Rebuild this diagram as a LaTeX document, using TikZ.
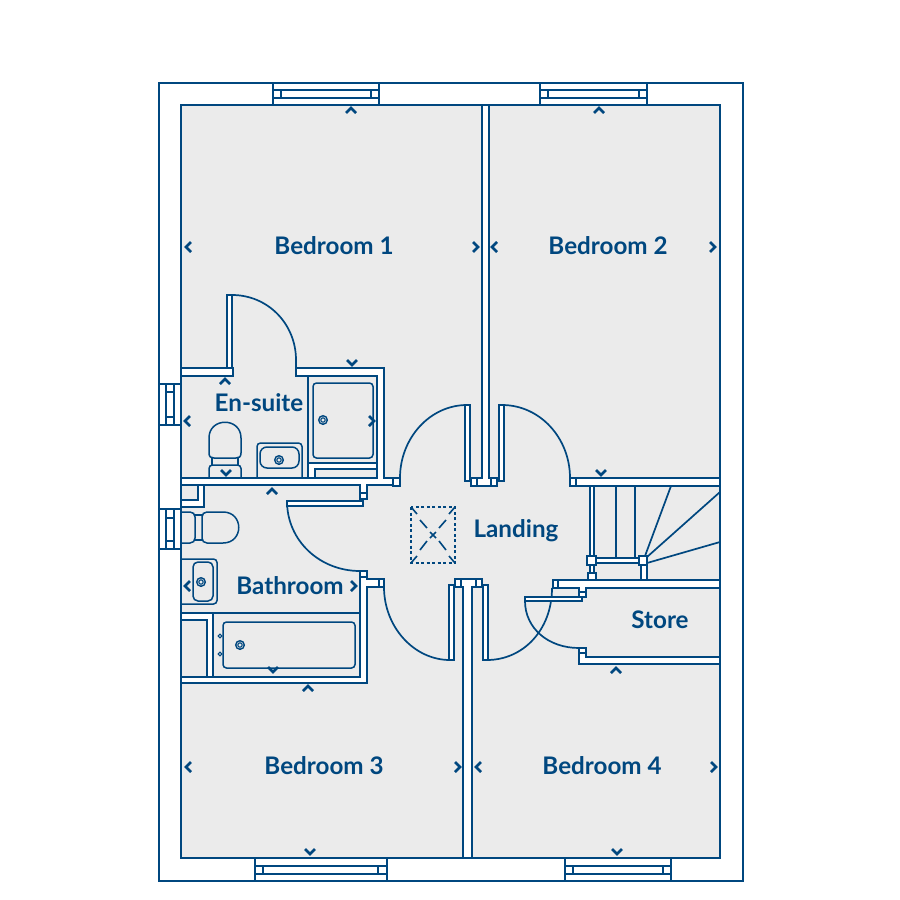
\documentclass[tikz,border=0pt]{standalone}
\usepackage{fontspec}
\setmainfont{Lato}
\definecolor{planblue}{HTML}{00477F}
\definecolor{roomgrey}{HTML}{EBEBEB}
\tikzset{
  plan/.style={draw=planblue,line width=1.7pt,line join=miter},
  thin plan/.style={draw=planblue,line width=1.4pt},
  wall/.style={plan,fill=white},
  fix/.style={draw=planblue,line width=1.5pt,rounded corners=3.5pt},
  chev/.style={draw=planblue,line width=2.6pt,line cap=butt,line join=miter},
  lbl/.style={text=planblue,font=\fontsize{24.2}{27}\selectfont\bfseries,inner sep=0pt},
  sky/.style={draw=planblue,line width=1.6pt,dash pattern=on 3pt off 2.5pt}
}
\newcommand{\chevU}[2]{\draw[chev] (#1-5,#2+3) -- (#1,#2-2) -- (#1+5,#2+3);}
\newcommand{\chevD}[2]{\draw[chev] (#1-5,#2-3) -- (#1,#2+2) -- (#1+5,#2-3);}
\newcommand{\chevL}[2]{\draw[chev] (#1+3,#2-5) -- (#1-2,#2) -- (#1+3,#2+5);}
\newcommand{\chevR}[2]{\draw[chev] (#1-3,#2-5) -- (#1+2,#2) -- (#1-3,#2+5);}
\newcommand{\plug}[2]{\draw[thin plan] (#1,#2) circle[radius=4.3]; \draw[planblue,line width=1.1pt] (#1,#2) circle[radius=2.2];}
\begin{document}
\begin{tikzpicture}[x=1pt,y=-1pt]
\useasboundingbox[fill=white] (0,0) rectangle (900,900);
% outer shell
\fill[white] (159,83) rectangle (743,881);
\draw[plan] (159,83) rectangle (743,881);
\draw[plan,fill=roomgrey] (181,105) rectangle (720,858);
% windows: top
\draw[plan,fill=white] (273,83) rectangle (379,105);
\draw[thin plan] (273,90) -- (379,90) (273,98) -- (379,98) (281,90) -- (281,98) (371,90) -- (371,98);
\draw[plan,fill=white] (540,83) rectangle (647,105);
\draw[thin plan] (540,90) -- (647,90) (540,98) -- (647,98) (548,90) -- (548,98) (639,90) -- (639,98);
% windows: bottom
\draw[plan,fill=white] (255,858) rectangle (387,881);
\draw[thin plan] (255,866) -- (387,866) (255,874) -- (387,874) (263,866) -- (263,874) (378,866) -- (378,874);
\draw[plan,fill=white] (565,858) rectangle (671,881);
\draw[thin plan] (565,866) -- (671,866) (565,874) -- (671,874) (573,866) -- (573,874) (663,866) -- (663,874);
% windows: side
\draw[plan,fill=white] (159,384) rectangle (181,425);
\draw[thin plan] (166,384) -- (166,425) (174,384) -- (174,425) (166,392) -- (174,392) (166,417) -- (174,417);
\draw[plan,fill=white] (159,509) rectangle (181,549);
\draw[thin plan] (166,509) -- (166,549) (174,509) -- (174,549) (166,518) -- (174,518) (166,541) -- (174,541);
% door swings
\draw[plan] (400,478) .. controls (400,438) and (430,405) .. (467,405);
\draw[plan] (502,405) .. controls (540,405) and (570,438) .. (570,478);
\draw[plan] (232,295) .. controls (268,295) and (296,324) .. (296,360) -- (296,376);
\draw[plan] (287,501) .. controls (287,541) and (320,571) .. (360,571);
\draw[plan] (384,587) .. controls (384,627) and (414,660) .. (450,660);
\draw[plan] (487,660) .. controls (523,660) and (552,630) .. (552,588);
\draw[plan] (525,601) .. controls (525,628) and (548,648) .. (579,648);
% central walls and door leaves
\draw[wall] (482,105) -- (489,105) -- (489,478) -- (482,478) -- cycle;
\draw[wall] (471,478) rectangle (497,486);
\fill[white] (483,476) rectangle (488,480);
\draw[thin plan] (477,478) -- (477,486) (491,478) -- (491,486);
\draw[wall] (465,405) rectangle (470,481);
\draw[wall] (499,405) rectangle (504,481);
\draw[wall] (463,587) -- (472,587) -- (472,858) -- (463,858) -- cycle;
\draw[wall] (455,579) rectangle (482,587);
\fill[white] (464,585) rectangle (471,589);
\draw[thin plan] (461,579) -- (461,587) (476,579) -- (476,587);
\draw[wall] (449,585) rectangle (454,660);
\draw[wall] (483,585) rectangle (488,660);
% en-suite walls
\draw[wall] (181,368) -- (233,368) -- (233,376) -- (181,376) -- cycle;
\draw[wall] (227,295) rectangle (232,368);
\draw[wall] (296,376) -- (296,368) -- (384,368) -- (384,478) -- (393,478) -- (393,485) -- (367,485) -- (367,493) -- (360,493) -- (360,485) -- (181,485) -- (181,478) -- (377,478) -- (377,376) -- cycle;
\draw[wall] (393,478) rectangle (400,486);
\draw[wall] (360,493) rectangle (367,499);
\draw[wall] (287,501) rectangle (363,506);
% duct
\draw[wall] (198,485) -- (204,485) -- (204,507) -- (181,507) -- (181,500) -- (198,500) -- cycle;
% shower
\draw[plan] (308,376) -- (308,478);
\draw[wall] (308,463) -- (377,463) -- (377,469) -- (315,469) -- (315,478) -- (308,478) -- cycle;
\draw[fix] (313,383) rectangle (373,458);
\plug{323}{420}
% en-suite sink and WC
\draw[fix] (257,478) -- (257,443) -- (302,443) -- (302,478);
\draw[fix,rounded corners=7pt] (260,447) -- (299,447) -- (299,468) -- (260,468) -- cycle;
\plug{279}{460}
\draw[fix] (209,478) -- (209,465) -- (241,465) -- (241,478);
\draw[plan,line width=1.5pt] (212,458) -- (212,465) (238,458) -- (238,465);
\draw[draw=planblue,line width=1.5pt] (209,453) -- (209,438) .. controls (209,417) and (241,417) .. (241,438) -- (241,453) .. controls (241,457) and (239,458) .. (236,458) -- (214,458) .. controls (211,458) and (209,457) .. (209,453) -- cycle;
% bathroom walls
\draw[wall] (360,577) -- (367,577) -- (367,579) -- (379,579) -- (379,587) -- (367,587) -- (367,683) -- (181,683) -- (181,677) -- (360,677) -- cycle;
\draw[wall] (360,571) rectangle (367,577);
\draw[wall] (379,579) rectangle (384,587);
\draw[plan] (181,613) -- (360,613);
\draw[wall] (181,613) -- (213,613) -- (213,677) -- (207,677) -- (207,620) -- (181,620) -- cycle;
% bath
\draw[fix] (223,622) rectangle (355,668);
\plug{240}{645}
\draw[planblue,line width=1.1pt] (220,636) circle[radius=1.8] (220,654) circle[radius=1.8];
% bathroom sink
\draw[fix] (181,559) -- (217,559) -- (217,604) -- (181,604);
\draw[fix,rounded corners=5pt] (193,562) rectangle (213,601);
\plug{201}{582}
% bathroom WC
\draw[draw=planblue,line width=1.5pt] (181,512) -- (190,512) .. controls (193,512) and (195,514) .. (195,517) -- (195,538) .. controls (195,541) and (193,543) .. (190,543) -- (181,543);
\draw[draw=planblue,line width=1.5pt] (195,515) -- (202,515) (195,540) -- (202,540);
\draw[draw=planblue,line width=1.5pt] (207,512) -- (223,512) .. controls (244,512) and (244,543) .. (223,543) -- (207,543) .. controls (204,543) and (202,541) .. (202,538) -- (202,517) .. controls (202,514) and (204,512) .. (207,512) -- cycle;
% stairs
\draw[wall] (570,478) -- (720,478) -- (720,486) -- (570,486) -- cycle;
\draw[thin plan] (576,478) -- (576,486);
\draw[wall] (553,580) -- (720,580) -- (720,588) -- (586,588) -- (586,592) -- (579,592) -- (579,588) -- (553,588) -- cycle;
\draw[thin plan] (558,580) -- (558,588);
\draw[wall] (579,592) rectangle (586,597);
\draw[wall] (590,486) rectangle (594,556);
\draw[wall] (590,565) rectangle (594,573);
\draw[wall] (641,565) rectangle (647,580);
\draw[wall] (596,558) rectangle (639,563);
\draw[wall] (587,556) rectangle (596,565);
\draw[wall] (588,573) rectangle (596,580);
\draw[wall] (639,556) rectangle (647,565);
\draw[plan] (616,486) -- (616,558) (635,486) -- (635,558);
\draw[plan] (671,486) -- (645,556) (720,492) -- (647,557) (720,542) -- (647,563);
% store
\draw[wall] (525,597) rectangle (582,601);
\draw[wall] (579,648) -- (586,648) -- (586,657) -- (720,657) -- (720,664) -- (579,664) -- cycle;
\draw[thin plan] (579,653) -- (586,653);
% skylight
\draw[sky] (411,507) rectangle (455,563);
\draw[plan,line width=1.6pt] (411,507) -- (417,514) (455,507) -- (449,514) (411,563) -- (417,556) (455,563) -- (449,556);
\draw[plan,line width=1.6pt] (420,520) -- (427,528) (446,520) -- (439,528) (420,550) -- (427,541) (446,550) -- (439,541);
\draw[plan,line width=1.6pt] (430,532) -- (436,538) (436,532) -- (430,538);
% chevrons
\chevU{351}{110}\chevU{599}{110}
\chevL{188}{247}\chevR{476}{247}\chevL{494}{247}\chevR{713}{247}
\chevD{352}{363}\chevU{225}{381}\chevL{187}{421}\chevR{372}{421}
\chevD{226}{473}\chevU{272}{491}\chevD{601}{473}
\chevL{187}{586}\chevR{354}{586}\chevD{273}{670}\chevU{308}{688}
\chevL{188}{767}\chevR{458}{767}\chevL{478}{767}\chevR{714}{767}
\chevU{616}{670}\chevD{310}{852}\chevD{617}{852}
% labels
\node[lbl] (bed1) at (334,245.5) {Bedroom 1};
\node[lbl] (bed2) at (608,245.5) {Bedroom 2};
\node[lbl] (ens) at (259,402.5) {En-suite};
\node[lbl] (land) at (516,531) {Landing};
\node[lbl] (bath) at (290,585.5) {Bathroom};
\node[lbl] (store) at (660,619.5) {Store};
\node[lbl] (bed3) at (324,765.5) {Bedroom 3};
\node[lbl] (bed4) at (602,765.5) {Bedroom 4};
\end{tikzpicture}
\end{document}
